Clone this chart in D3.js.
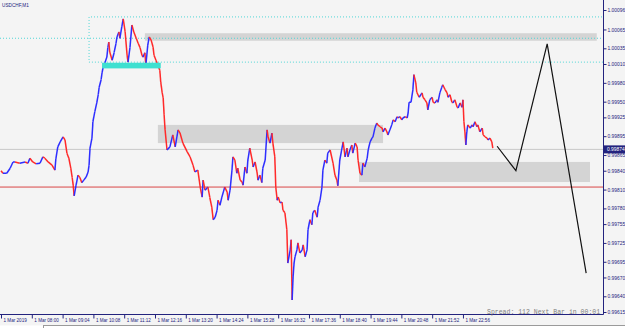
<!DOCTYPE html>
<html>
<head>
<meta charset="utf-8">
<script src="https://cdn.jsdelivr.net/npm/d3@7"></script>
<style>
  body { margin: 0; background: #f4f4f4; }
  svg { display: block; }
</style>
</head>
<body>
<div class="chart"></div>
<script>
let symbol = 'USDCHF,M1'
let spreadText = 'Spread: 112 Next Bar in 00:01'

// minutes after 06:56 for each sampled close
let minutes = [
  0,4,12,19,25,29,39,50,56,60,
  66,73,81,87,91,98,106,112,114,118,
  123,129,133,137,141,145,148,150,152,156,
  160,164,168,172,177,181,183,185,189,191,
  195,199,202,204,208,210,212,216,220,222,
  224,226,231,235,239,241,245,247,251,254,
  258,262,264,268,272,276,281,285,289,293,
  295,299,301,305,308,312,316,318,322,326,
  330,332,335,337,339,341,343,345,351,357,
  362,368,372,378,387,393,399,403,409,414,
  418,420,424,430,434,438,441,445,449,451,
  455,459,465,470,472,476,480,482,486,490,
  492,497,501,503,507,511,513,517,522,524,
  528,532,534,538,542,544,549,553,555,559,
  563,565,569,571,574,576,580,584,586,590,
  594,596,601,603,605,607,609,611,615,617,
  621,626,628,632,636,638,642,646,648,652,
  657,659,663,667,669,673,677,679,684,690,
  694,698,700,704,711,715,719,721,725,729,
  731,736,740,742,746,750,752,756,761,763,
  767,771,773,777,781,783,788,792,794,798,
  802,804,808,812,815,819,823,825,829,833,
  835,840,844,846,848,852,856,858,862,864,
  869,875,877,881,885,887,891,896,898,902,
  906,908,912,916,918,923,927,929,933,937,
  939,943,948,950,954,958,960,962,964,966,
  968,970,975,979,981,985,989,991,995,1000,
  1002,1006,1010,1012,1016,1020,1022
]

let prices = [
  0.99840,0.99836,0.99836,0.99844,0.99854,0.99854,0.99852,0.99854,0.99852,0.99860,
  0.99854,0.99851,0.99852,0.99862,0.99860,0.99854,0.99849,0.99841,0.99859,0.99878,
  0.99886,0.99894,0.99889,0.99868,0.99860,0.99844,0.99829,0.99817,0.99800,0.99817,
  0.99833,0.99829,0.99821,0.99825,0.99830,0.99838,0.99849,0.99876,0.99892,0.99918,
  0.99934,0.99948,0.99961,0.99973,0.99985,0.99996,1.00004,1.00012,1.00021,1.00036,
  1.00045,1.00029,1.00016,1.00028,1.00043,1.00053,1.00061,1.00051,1.00069,1.00082,
  1.00061,1.00024,1.00013,1.00036,1.00072,1.00061,1.00051,1.00043,1.00036,1.00024,
  1.00021,1.00028,1.00008,1.00040,1.00053,1.00048,1.00037,1.00024,1.00016,1.00008,
  1.00000,0.99981,0.99964,0.99956,0.99929,0.99905,0.99889,0.99873,0.99878,0.99897,
  0.99878,0.99905,0.99900,0.99884,0.99870,0.99862,0.99849,0.99838,0.99841,0.99814,
  0.99798,0.99825,0.99809,0.99814,0.99797,0.99782,0.99762,0.99766,0.99777,0.99793,
  0.99785,0.99798,0.99814,0.99806,0.99793,0.99809,0.99841,0.99862,0.99857,0.99836,
  0.99844,0.99825,0.99822,0.99817,0.99846,0.99836,0.99857,0.99876,0.99857,0.99846,
  0.99854,0.99838,0.99825,0.99833,0.99821,0.99844,0.99857,0.99905,0.99894,0.99884,
  0.99900,0.99884,0.99862,0.99814,0.99793,0.99798,0.99789,0.99790,0.99777,0.99773,
  0.99746,0.99693,0.99714,0.99730,0.99634,0.99671,0.99693,0.99703,0.99714,0.99725,
  0.99709,0.99714,0.99722,0.99703,0.99714,0.99746,0.99762,0.99754,0.99773,0.99777,
  0.99766,0.99782,0.99793,0.99814,0.99841,0.99857,0.99852,0.99868,0.99873,0.99852,
  0.99833,0.99825,0.99816,0.99857,0.99886,0.99862,0.99876,0.99862,0.99873,0.99881,
  0.99868,0.99884,0.99878,0.99857,0.99836,0.99833,0.99852,0.99846,0.99860,0.99873,
  0.99886,0.99892,0.99894,0.99908,0.99916,0.99913,0.99910,0.99908,0.99902,0.99908,
  0.99902,0.99897,0.99905,0.99913,0.99921,0.99918,0.99926,0.99924,0.99926,0.99921,
  0.99924,0.99926,0.99924,0.99932,0.99949,0.99949,0.99969,0.99993,0.99980,0.99965,
  0.99957,0.99964,0.99957,0.99953,0.99948,0.99937,0.99953,0.99957,0.99949,0.99948,
  0.99953,0.99949,0.99964,0.99973,0.99977,0.99969,0.99964,0.99957,0.99961,0.99949,
  0.99948,0.99953,0.99941,0.99940,0.99948,0.99941,0.99953,0.99918,0.99902,0.99881,
  0.99902,0.99913,0.99908,0.99913,0.99910,0.99918,0.99910,0.99913,0.99902,0.99908,
  0.99897,0.99894,0.99892,0.99889,0.99892,0.99886,0.99876
]

// hand drawn projection
let trendMinutes = [1031, 1070, 1135, 1216]
let trendPrices = [0.99879, 0.99840, 1.00042, 0.99677]

// grey supply / demand zones
let zoneFrom = [299, 326, 744]
let zoneTo = [1238, 794, 1224]
let zoneHigh = [1.00059, 0.99913, 0.99854]
let zoneLow = [1.00047, 0.99884, 0.99822]

// turquoise block and dotted range box
let blockFrom = 210, blockTo = 332, blockHigh = 1.00012, blockLow = 1.00003
let rangeFrom = 183, rangeHigh = 1.00085, rangeLow = 1.00013

let cyanLevel = 1.00051
let redLevel = 0.99814
let bid = 0.99874

let priceTicks = ['1.00096','1.00065','1.00035','1.00010','0.99980','0.99950','0.99925','0.99895',
  '0.99865','0.99840','0.99810','0.99780','0.99755','0.99725','0.99695','0.99670','0.99640','0.99615']

let timeTicks = [0,64,128,192,256,320,384,448,512,576,640,704,768,832,896,960]
let timeLabels = ['1 Mar 2019','1 Mar 08:00','1 Mar 09:04','1 Mar 10:08','1 Mar 11:12','1 Mar 12:16',
  '1 Mar 13:20','1 Mar 14:24','1 Mar 15:28','1 Mar 16:32','1 Mar 17:36','1 Mar 18:40',
  '1 Mar 19:44','1 Mar 20:48','1 Mar 21:52','1 Mar 22:56']

let width = 625
let height = 328
let plotRight = 603
let plotBottom = 314
let ink = '#23237e'

let xScale = d3.scaleLinear()
                .domain([0, 1251])
                .range([1, plotRight])

let yScale = d3.scaleLinear()
                .domain([0.99615, 1.00096])
                .range([312, 10])

let svg = d3.select('.chart')
            .append('svg')
            .attr('width', width)
            .attr('height', height)
            .style('font-family', '"Liberation Sans", Arial, sans-serif')

svg.append('rect')
   .attr('width', width).attr('height', height)
   .attr('fill', '#f4f4f4')

svg.append('clipPath').attr('id', 'plot')
   .append('rect').attr('width', plotRight).attr('height', plotBottom)

let plot = svg.append('g').attr('clip-path', 'url(#plot)')

// zones
zoneFrom.forEach((d, i) => {
    plot.append('rect')
        .attr('x', xScale(d))
        .attr('y', yScale(zoneHigh[i]))
        .attr('width', xScale(zoneTo[i]) - xScale(d))
        .attr('height', yScale(zoneLow[i]) - yScale(zoneHigh[i]))
        .attr('fill', '#d4d4d4')
})

// dotted range box (open to the right)
let rx = xScale(rangeFrom), ry1 = yScale(rangeHigh), ry2 = yScale(rangeLow)
plot.append('path')
    .attr('d', `M${plotRight + 5},${ry1}H${rx}V${ry2}H${plotRight + 5}`)
    .attr('fill', 'none')
    .attr('stroke', '#52d6d6')
    .attr('stroke-dasharray', '1,2')

// horizontal levels
plot.append('line')
    .attr('x1', 0).attr('x2', plotRight)
    .attr('y1', yScale(cyanLevel)).attr('y2', yScale(cyanLevel))
    .attr('stroke', '#52d6d6')
    .attr('stroke-dasharray', '1,2')

plot.append('line')
    .attr('x1', 0).attr('x2', plotRight)
    .attr('y1', yScale(bid)).attr('y2', yScale(bid))
    .attr('stroke', '#c8c8c8')

plot.append('line')
    .attr('x1', 0).attr('x2', plotRight)
    .attr('y1', yScale(redLevel)).attr('y2', yScale(redLevel))
    .attr('stroke', '#d94646')

// price
for (let i = 1; i < minutes.length; i++) {
    plot.append('line')
        .attr('x1', xScale(minutes[i - 1]))
        .attr('y1', yScale(prices[i - 1]))
        .attr('x2', xScale(minutes[i]))
        .attr('y2', yScale(prices[i]))
        .attr('stroke', prices[i] >= prices[i - 1] ? '#2e2eff' : '#ff2a2a')
        .attr('stroke-width', 1.5)
}

plot.append('rect')
    .attr('x', xScale(blockFrom))
    .attr('y', yScale(blockHigh))
    .attr('width', xScale(blockTo) - xScale(blockFrom))
    .attr('height', yScale(blockLow) - yScale(blockHigh))
    .attr('fill', '#3ee0d0')

let trend = d3.line()
              .x((d) => xScale(d))
              .y((d, i) => yScale(trendPrices[i]))

plot.append('path')
    .attr('d', trend(trendMinutes))
    .attr('fill', 'none')
    .attr('stroke', '#111')
    .attr('stroke-width', 1.2)

// axes frame
svg.append('line')
   .attr('x1', plotRight + 0.5).attr('x2', plotRight + 0.5)
   .attr('y1', 0).attr('y2', plotBottom + 0.5)
   .attr('stroke', ink)
svg.append('line')
   .attr('x1', 0).attr('x2', plotRight + 0.5)
   .attr('y1', plotBottom + 0.5).attr('y2', plotBottom + 0.5)
   .attr('stroke', ink)

let yAxis = d3.axisRight(yScale)
              .tickValues(priceTicks.map(Number))
              .tickFormat((d, i) => priceTicks[i])
              .tickSize(3)

let gy = svg.append('g')
   .attr('transform', `translate(${plotRight + 0.5},0)`)
   .call(yAxis)
gy.select('.domain').remove()
gy.selectAll('line').attr('stroke', ink)
gy.selectAll('text')
  .attr('x', 4)
  .attr('fill', ink)
  .style('font-size', '4.9px')
  .style('font-family', '"Liberation Sans", Arial, sans-serif')

let xAxis = d3.axisBottom(xScale)
              .tickValues(timeTicks)
              .tickFormat((d, i) => timeLabels[i])
              .tickSize(4)

let gx = svg.append('g')
   .attr('transform', `translate(0,${plotBottom + 0.5})`)
   .call(xAxis)
gx.select('.domain').remove()
gx.selectAll('line').attr('stroke', ink)
gx.selectAll('text')
  .attr('x', 2)
  .attr('y', 4)
  .attr('text-anchor', 'start')
  .attr('fill', ink)
  .style('font-size', '4.6px')
  .style('font-family', '"Liberation Sans", Arial, sans-serif')

// bid marker
let by = yScale(bid)
svg.append('rect')
   .attr('x', plotRight + 1).attr('y', by - 4)
   .attr('width', 21).attr('height', 8)
   .attr('fill', ink)
svg.append('text')
   .attr('x', plotRight + 4).attr('y', by)
   .attr('dy', '0.35em')
   .attr('fill', 'white')
   .style('font-size', '4.9px')
   .text(bid.toFixed(5))

svg.append('text')
   .attr('x', 2).attr('y', 6.5)
   .attr('fill', ink)
   .style('font-size', '4.7px')
   .text(symbol)

svg.append('text')
   .attr('x', 487).attr('y', 314)
   .attr('fill', '#808080')
   .style('font-family', '"Liberation Mono", "DejaVu Sans Mono", monospace')
   .style('font-size', '6.5px')
   .text(spreadText)

// terminal tab strip
svg.append('rect')
   .attr('x', 0).attr('y', 325.5)
   .attr('width', width).attr('height', 3)
   .attr('fill', '#ffffff')
svg.append('line')
   .attr('x1', 43).attr('x2', width)
   .attr('y1', 325.5).attr('y2', 325.5)
   .attr('stroke', '#9a9a9a')
svg.append('line')
   .attr('x1', 43.5).attr('x2', 43.5)
   .attr('y1', 325).attr('y2', 328)
   .attr('stroke', '#9a9a9a')
</script>
</body>
</html>
